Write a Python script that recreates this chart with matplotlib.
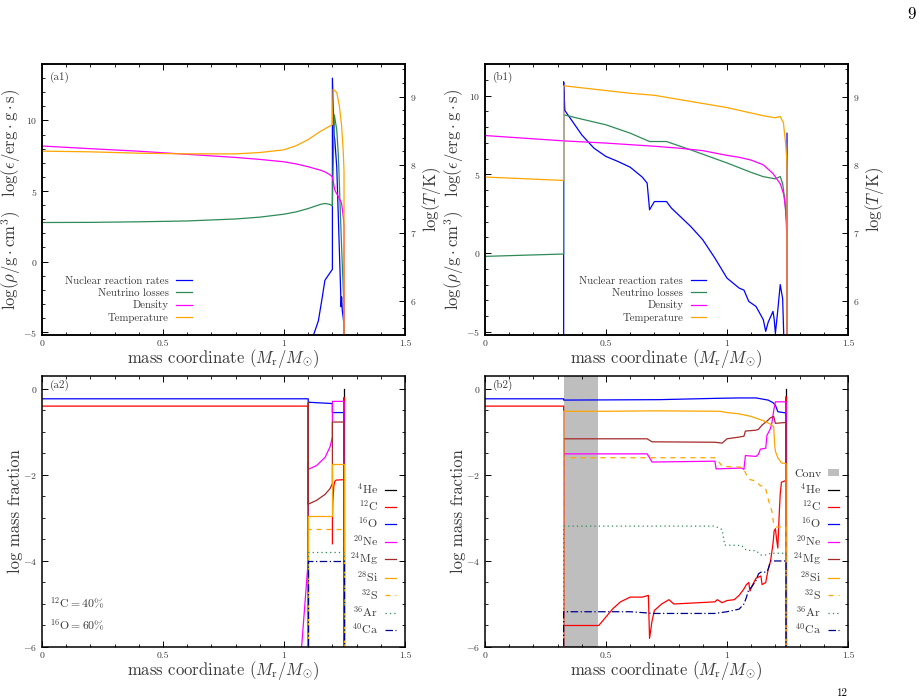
import numpy as np
import matplotlib
matplotlib.use("Agg")
import matplotlib.pyplot as plt
from matplotlib.ticker import MultipleLocator

plt.rcParams['font.family'] = ['cmr10', 'DejaVu Serif']
plt.rcParams['mathtext.fontset'] = 'cm'
plt.rcParams['axes.formatter.use_mathtext'] = True
plt.rcParams['axes.unicode_minus'] = True

TXT = '#3a3a3a'
C_BLUE = '#0000ff'
C_GREEN = '#2e8b57'
C_MAG = '#ff00ff'
C_ORANGE = '#ffa500'
C_RED = '#ff0000'
C_BROWN = '#a52a2a'
C_NAVY = '#00008b'

# ---------------- Panel (a1) ----------------
a1_nuc_x = [1.12, 1.142, 1.156, 1.169, 1.183, 1.197, 1.2, 1.2, 1.207, 1.21, 1.218, 1.225, 1.231, 1.236, 1.238, 1.241, 1.245, 1.248, 1.248]
a1_nuc_y = [-5.3, -4.2, -2.75, -1.33, -0.97, -0.62, -0.55, 13.0, 8.97, 8.6, 6.7, 2.9, -0.4, -3.2, -2.5, -3.5, -4.0, -4.6, -20]

a1_neu_x = [0, 0.2, 0.4, 0.6, 0.8, 0.9, 1.0, 1.05, 1.1, 1.15, 1.17, 1.19, 1.2, 1.2, 1.208, 1.218, 1.225, 1.231, 1.238, 1.245, 1.248, 1.248]
a1_neu_y = [2.77, 2.78, 2.82, 2.88, 3.02, 3.15, 3.36, 3.52, 3.76, 4.05, 4.12, 4.05, 3.95, 4.1, 10.39, 9.33, 7.43, 4.35, 1.04, -2.0, -3.0, -20]

a1_rho_x = [0, 0.2, 0.4, 0.6, 0.8, 0.9, 1.0, 1.05, 1.1, 1.15, 1.17, 1.19, 1.2, 1.21, 1.225, 1.238, 1.245, 1.248, 1.248]
a1_rho_y = [8.19, 8.0, 7.82, 7.6, 7.38, 7.24, 7.07, 6.92, 6.72, 6.48, 6.35, 6.15, 6.0, 5.06, 4.59, 4.12, 3.17, 2.5, -20]

a1_T_x = [0, 0.2, 0.4, 0.6, 0.8, 0.9, 1.0, 1.05, 1.1, 1.15, 1.18, 1.2, 1.203, 1.218, 1.229, 1.238, 1.245, 1.248, 1.248]
a1_T_y = [8.2, 8.19, 8.17, 8.16, 8.16, 8.18, 8.22, 8.28, 8.37, 8.49, 8.55, 8.59, 9.11, 9.06, 8.86, 8.57, 8.18, 7.9, 5.0]

# ---------------- Panel (b1) ----------------
b1_nuc_x = [0.325, 0.325, 0.33, 0.4, 0.45, 0.5, 0.55, 0.6, 0.65, 0.67, 0.68, 0.7, 0.75, 0.77, 0.85, 0.9, 0.95, 1.0, 1.05, 1.07, 1.09, 1.12, 1.15, 1.16, 1.17, 1.19, 1.195, 1.2, 1.21, 1.22, 1.23, 1.235, float('nan'), 1.248, 1.248]
b1_nuc_y = [-20, 10.87, 9.05, 7.5, 6.66, 6.13, 5.81, 5.45, 4.82, 4.44, 2.75, 3.27, 3.27, 2.86, 1.69, 0.84, -0.32, -1.59, -2.22, -2.35, -3.07, -3.39, -4.23, -4.97, -4.4, -3.7, -4.2, -5.1, -3.6, -2.0, -2.9, -5.5, float('nan'), 7.6, -20]

b1_neu_x = [0, 0.325, 0.325, 0.4, 0.5, 0.6, 0.68, 0.75, 0.85, 1.0, 1.1, 1.15, 1.2, 1.22, 1.23, 1.24, 1.245, 1.248, 1.248]
b1_neu_y = [-0.21, -0.06, 8.78, 8.5, 8.14, 7.61, 7.08, 7.08, 6.55, 5.72, 5.12, 4.85, 4.71, 4.86, 4.4, 3.2, 2.0, 0.5, -20]

b1_rho_x = [0, 0.325, 0.5, 0.6, 0.7, 0.8, 0.9, 1.0, 1.05, 1.1, 1.15, 1.19, 1.22, 1.235, 1.242, 1.246, 1.248, 1.248]
b1_rho_y = [7.46, 7.12, 6.98, 6.88, 6.78, 6.66, 6.5, 6.2, 6.08, 5.9, 5.6, 5.05, 4.4, 3.7, 2.8, 2.0, 1.0, -20]

b1_T_x = [0, 0.325, 0.325, 0.4, 0.5, 0.6, 0.7, 0.85, 1.0, 1.05, 1.1, 1.15, 1.2, 1.219, 1.233, 1.242, 1.247, 1.248, 1.248]
b1_T_y = [7.82, 7.77, 9.16, 9.13, 9.09, 9.05, 9.02, 8.93, 8.84, 8.8, 8.76, 8.72, 8.69, 8.71, 8.62, 8.32, 8.08, 7.9, 5.0]

# ---------------- Panel (a2) ----------------
a2_He_x = [1.248, 1.248]
a2_He_y = [-8, 0.0]
a2_C_x = [0, 1.1, 1.1, float('nan'), 1.2, 1.2, 1.202, 1.206, 1.21, 1.215, 1.247, 1.248, 1.248]
a2_C_y = [-0.4, -0.4, -8, float('nan'), -3.6, -3.1, -2.6, -2.25, -2.15, -2.12, -2.11, -0.2, -8]
a2_O_x = [0, 1.1, 1.1, 1.2, 1.2, 1.248, 1.248]
a2_O_y = [-0.23, -0.23, -0.31, -0.34, -0.55, -0.55, -8]
a2_Ne_x = [1.07, 1.1, 1.1, 1.101, 1.135, 1.17, 1.19, 1.2, 1.2, 1.248, 1.248]
a2_Ne_y = [-6.2, -4.0, -1.71, -1.87, -1.78, -1.59, -1.35, -1.12, -0.29, -0.29, -8]
a2_Mg_x = [1.1, 1.1, 1.1, 1.135, 1.17, 1.19, 1.2, 1.2, 1.248, 1.248]
a2_Mg_y = [-8, -0.32, -2.68, -2.59, -2.45, -2.32, -2.2, -0.77, -0.77, -8]
a2_Si_x = [1.1, 1.1, 1.2, 1.2, 1.248, 1.248]
a2_Si_y = [-8, -2.96, -2.96, -1.74, -1.74, -8]
a2_S_x = [1.1, 1.1, 1.248, 1.248]
a2_S_y = [-8, -3.26, -3.26, -8]
a2_Ar_x = [1.1, 1.1, 1.248, 1.248]
a2_Ar_y = [-8, -3.8, -3.8, -8]
a2_Ca_x = [1.1, 1.1, 1.248, 1.248]
a2_Ca_y = [-8, -4.0, -4.0, -8]

# ---------------- Panel (b2) ----------------
b2_conv = (0.325, 0.467)
b2_He_x = [1.244, 1.244]
b2_He_y = [-8, 0.0]
b2_C_x = [0, 0.325, 0.325, 0.47, 0.5, 0.53, 0.56, 0.6, 0.65, 0.675, 0.68, 0.69, 0.7, 0.73, 0.76, 0.78, 0.85, 0.95, 0.96, 0.98, 1.0, 1.03, 1.05, 1.07, 1.08, 1.09, 1.095, 1.1, 1.12, 1.14, 1.145, 1.16, 1.17, 1.18, 1.19, 1.195, 1.2, 1.205, 1.21, 1.215, 1.22, 1.225, 1.243, 1.244, 1.244]
b2_C_y = [-0.4, -0.4, -5.5, -5.5, -5.3, -5.1, -4.95, -4.84, -4.84, -4.8, -5.8, -5.4, -5.15, -5.0, -4.9, -5.0, -4.98, -4.95, -4.9, -4.97, -4.92, -4.9, -4.8, -4.65, -4.55, -4.5, -4.7, -4.62, -4.4, -4.35, -4.55, -4.5, -4.2, -4.0, -3.6, -3.3, -3.25, -3.5, -3.7, -3.0, -2.44, -2.17, -2.13, -0.18, -8]
b2_O_x = [0, 0.325, 0.325, 0.72, 0.95, 1.05, 1.12, 1.17, 1.19, 1.2, 1.21, 1.244, 1.244]
b2_O_y = [-0.23, -0.23, -0.26, -0.25, -0.22, -0.21, -0.21, -0.26, -0.32, -0.38, -0.53, -0.56, -8]
b2_Ne_x = [0.325, 0.325, 0.67, 0.68, 0.69, 0.95, 0.955, 1.06, 1.07, 1.076, 1.12, 1.13, 1.138, 1.16, 1.165, 1.179, 1.186, 1.193, 1.2, 1.244, 1.244]
b2_Ne_y = [-8, -1.51, -1.51, -1.6, -1.7, -1.68, -1.86, -1.84, -1.87, -1.55, -1.57, -1.52, -1.4, -1.38, -1.08, -0.93, -0.78, -0.5, -0.3, -0.3, -8]
b2_Mg_x = [0.325, 0.325, 0.67, 0.69, 0.95, 0.98, 1.0, 1.05, 1.07, 1.076, 1.12, 1.13, 1.145, 1.165, 1.18, 1.193, 1.2, 1.244, 1.244]
b2_Mg_y = [-8, -1.16, -1.16, -1.23, -1.24, -1.26, -1.16, -1.12, -1.1, -0.98, -0.96, -0.94, -0.84, -0.75, -0.67, -0.64, -0.8, -0.78, -8]
b2_Si_x = [0.325, 0.325, 0.5, 0.7, 0.97, 1.0, 1.05, 1.1, 1.13, 1.15, 1.18, 1.193, 1.197, 1.2, 1.21, 1.225, 1.244, 1.244]
b2_Si_y = [-8, -0.52, -0.52, -0.51, -0.52, -0.55, -0.58, -0.64, -0.7, -0.74, -0.82, -0.88, -1.3, -1.45, -1.6, -1.72, -1.74, -8]
b2_S_x = [0.325, 0.325, 0.95, 0.96, 0.98, 1.06, 1.07, 1.09, 1.117, 1.138, 1.158, 1.172, 1.186, 1.193, 1.2, 1.244, 1.244]
b2_S_y = [-8, -1.6, -1.6, -1.65, -1.8, -1.82, -1.88, -2.1, -2.14, -2.25, -2.28, -2.6, -2.86, -3.15, -3.21, -3.21, -8]
b2_Ar_x = [0.325, 0.325, 0.95, 0.98, 0.99, 1.06, 1.08, 1.12, 1.14, 1.165, 1.18, 1.244, 1.244]
b2_Ar_y = [-8, -3.19, -3.19, -3.27, -3.63, -3.64, -3.75, -3.76, -3.86, -3.86, -3.82, -3.82, -8]
b2_Ca_x = [0.325, 0.325, 0.6, 0.7, 0.95, 1.0, 1.05, 1.07, 1.08, 1.09, 1.1, 1.12, 1.13, 1.14, 1.16, 1.17, 1.18, 1.19, 1.244, 1.244]
b2_Ca_y = [-8, -5.18, -5.18, -5.22, -5.22, -5.18, -5.12, -5.0, -4.85, -4.66, -4.62, -4.45, -4.3, -4.26, -4.26, -4.2, -4.0, -4.0, -4.0, -8]

iso_labels = [r'$^{4}$He', r'$^{12}$C', r'$^{16}$O', r'$^{20}$Ne', r'$^{24}$Mg',
              r'$^{28}$Si', r'$^{32}$S', r'$^{36}$Ar', r'$^{40}$Ca']
iso_styles = [dict(color='black', ls='-'), dict(color=C_RED, ls='-'), dict(color=C_BLUE, ls='-'),
              dict(color=C_MAG, ls='-'), dict(color=C_BROWN, ls='-'), dict(color=C_ORANGE, ls='-'),
              dict(color=C_ORANGE, ls=(0, (4, 4))), dict(color=C_GREEN, ls=(0, (1, 2.5))),
              dict(color=C_NAVY, ls=(0, (6, 2, 1, 2)))]
prof_labels = ['Nuclear reaction rates', 'Neutrino losses', 'Density', 'Temperature']

W, H = 923, 700
fig = plt.figure(figsize=(W / 100, H / 100), dpi=100)

def box(l, t, r, b):
    return [l / W, 1 - b / H, (r - l) / W, (b - t) / H]

LW = 0.9

def style_axis(ax, ymaj, ymin, right=True):
    ax.tick_params(which='both', direction='in', top=True, right=right, colors='black',
                   labelcolor=TXT, labelsize=7, pad=3.5)
    ax.tick_params(which='major', length=4, width=0.7)
    ax.tick_params(which='minor', length=2.2, width=0.6)
    ax.xaxis.set_major_locator(MultipleLocator(0.5))
    ax.xaxis.set_minor_locator(MultipleLocator(0.1))
    ax.yaxis.set_major_locator(MultipleLocator(ymaj))
    ax.yaxis.set_minor_locator(MultipleLocator(ymin))
    for s in ax.spines.values():
        s.set_linewidth(1.1)
    ax.set_xlim(0, 1.5)
    ax.xaxis.set_major_formatter(plt.FuncFormatter(lambda v, p: ('%g' % v)))
    ax.set_xlabel(r'mass coordinate $(M_{\mathrm{r}}/M_{\odot})$', fontsize=12, color=TXT)
    ax.xaxis.set_label_coords(0.5, -0.045)

def profile_panel(rect, tag, ylim, nx, ny, vx, vy, rx, ry, tx, ty, legx):
    ax = fig.add_axes(rect)
    ax2 = ax.twinx()
    l1, = ax.plot(nx, ny, color=C_BLUE, lw=LW, label=prof_labels[0])
    l2, = ax.plot(vx, vy, color=C_GREEN, lw=LW, label=prof_labels[1])
    l3, = ax.plot(rx, ry, color=C_MAG, lw=LW, label=prof_labels[2])
    l4, = ax2.plot(tx, ty, color=C_ORANGE, lw=LW, label=prof_labels[3])
    ax.set_ylim(*ylim)
    ax2.set_ylim(5.5, 9.48)
    style_axis(ax, 5, 1, right=False)
    ax2.tick_params(which='both', direction='in', colors='black', labelcolor=TXT, labelsize=7, pad=3.5)
    ax2.tick_params(which='major', length=4, width=0.7)
    ax2.tick_params(which='minor', length=2.2, width=0.6)
    ax2.yaxis.set_major_locator(MultipleLocator(1))
    ax2.yaxis.set_minor_locator(MultipleLocator(0.2))
    for s in ax2.spines.values():
        s.set_linewidth(1.1)
    ax.set_ylabel(r'$\log(\rho/\mathrm{g\cdot cm^3})\ \ \ \log(\epsilon/\mathrm{erg\cdot g\cdot s})$',
                  fontsize=12, color=TXT)
    ax.yaxis.set_label_coords(-0.052, 0.5)
    ax2.set_ylabel(r'$\log(T/\mathrm{K})$', fontsize=12, color=TXT)
    ax2.yaxis.set_label_coords(1.04, 0.5)
    ax.text(0.022, 0.952, tag, transform=ax.transAxes, fontsize=8, color=TXT, va='center')
    leg = ax2.legend([l1, l2, l3, l4], prof_labels, loc='lower right', bbox_to_anchor=(legx, 0.045),
                     frameon=False, markerfirst=False, fontsize=7.8, handlelength=1.45,
                     handletextpad=0.7, labelspacing=0.22, borderpad=0, borderaxespad=0)
    for t in leg.get_texts():
        t.set_color(TXT)
    return ax

def comp_panel(rect, tag, series, conv=None, note=False, legy=0.04):
    ax = fig.add_axes(rect)
    handles = []
    labels = []
    if conv is not None:
        p = ax.axvspan(conv[0], conv[1], color='#bebebe', lw=0, label='Conv')
        handles.append(p)
        labels.append('Conv')
    for (xs, ys), lab, st in zip(series, iso_labels, iso_styles):
        ln, = ax.plot(xs, ys, lw=LW, label=lab, **st)
        handles.append(ln)
        labels.append(lab)
    ax.set_ylim(-6, 0.3)
    style_axis(ax, 2, 0.5, right=True)
    ax.set_ylabel('log mass fraction', fontsize=12, color=TXT)
    ax.yaxis.set_label_coords(-0.052, 0.5)
    ax.text(0.022, 0.967, tag, transform=ax.transAxes, fontsize=8, color=TXT, va='center')
    leg = ax.legend(handles, labels, loc='lower right', bbox_to_anchor=(0.975, legy),
                    frameon=False, markerfirst=False, fontsize=8.5, handlelength=0.9,
                    handleheight=0.5, handletextpad=0.6, labelspacing=0.2, borderpad=0,
                    borderaxespad=0)
    for t in leg.get_texts():
        t.set_color(TXT)
    if note:
        ax.text(0.022, 0.162, r'$^{12}\mathrm{C} = 40\%$', transform=ax.transAxes,
                fontsize=8.5, color=TXT, va='center')
        ax.text(0.022, 0.081, r'$^{16}\mathrm{O} = 60\%$', transform=ax.transAxes,
                fontsize=8.5, color=TXT, va='center')
    return ax

profile_panel(box(42, 64, 405, 335), '(a1)', (-5.2, 14.0),
              a1_nuc_x, a1_nuc_y, a1_neu_x, a1_neu_y, a1_rho_x, a1_rho_y, a1_T_x, a1_T_y, 0.413)
profile_panel(box(485, 64, 848, 335), '(b1)', (-5.2, 12.0),
              b1_nuc_x, b1_nuc_y, b1_neu_x, b1_neu_y, b1_rho_x, b1_rho_y, b1_T_x, b1_T_y, 0.61)

a2_series = [(a2_He_x, a2_He_y), (a2_C_x, a2_C_y), (a2_O_x, a2_O_y), (a2_Ne_x, a2_Ne_y),
             (a2_Mg_x, a2_Mg_y), (a2_Si_x, a2_Si_y), (a2_S_x, a2_S_y), (a2_Ar_x, a2_Ar_y),
             (a2_Ca_x, a2_Ca_y)]
b2_series = [(b2_He_x, b2_He_y), (b2_C_x, b2_C_y), (b2_O_x, b2_O_y), (b2_Ne_x, b2_Ne_y),
             (b2_Mg_x, b2_Mg_y), (b2_Si_x, b2_Si_y), (b2_S_x, b2_S_y), (b2_Ar_x, b2_Ar_y),
             (b2_Ca_x, b2_Ca_y)]
comp_panel(box(42, 376, 405, 647), '(a2)', a2_series, note=True)
comp_panel(box(485, 376, 848, 647), '(b2)', b2_series, conv=b2_conv)

fig.text(912 / W, 1 - 14 / H, '9', fontsize=12, color='black', ha='center', va='center')
fig.text(842 / W, 1 - 698 / H, '12', fontsize=8, color='black', ha='center', va='bottom')

fig.savefig('out.png', dpi=100)
